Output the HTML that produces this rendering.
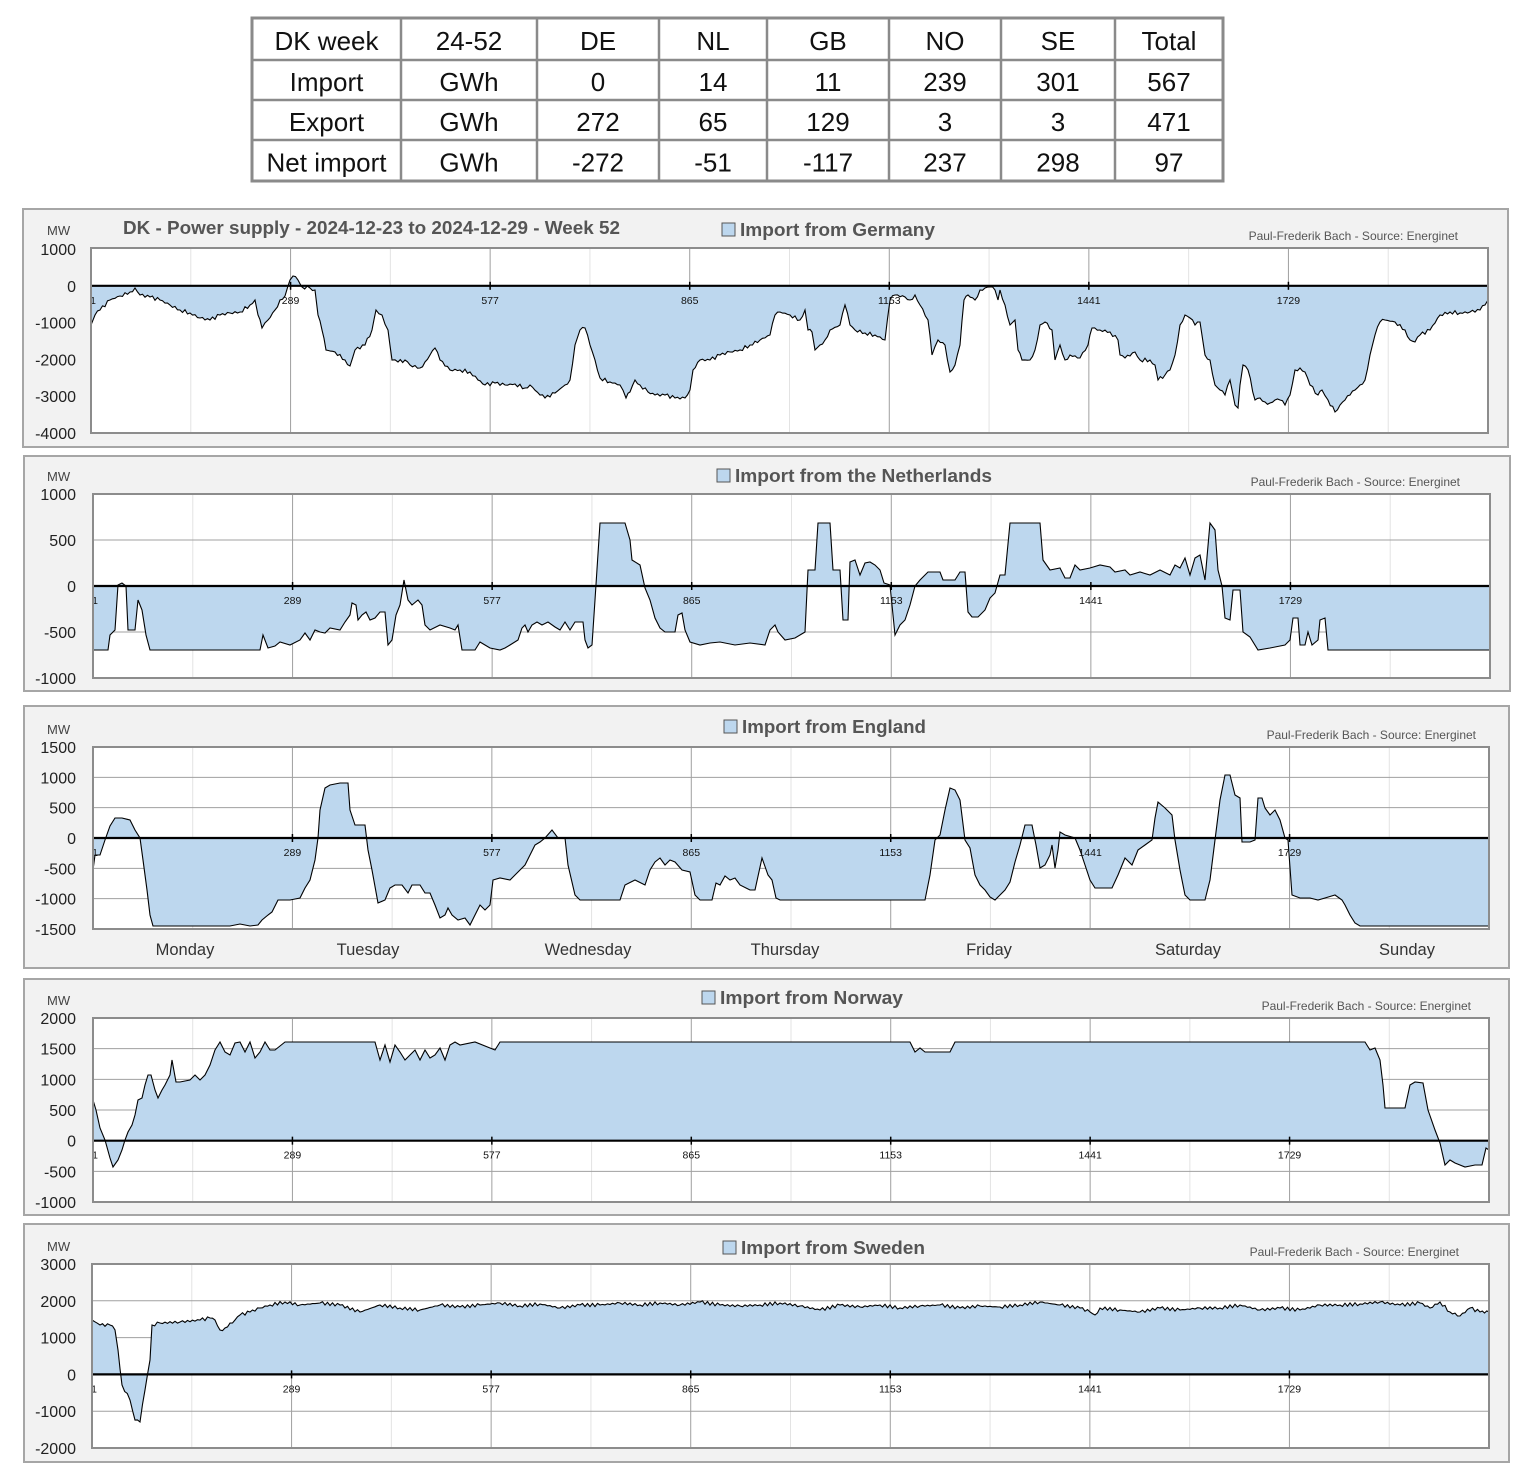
<!DOCTYPE html>
<html><head><meta charset="utf-8"><style>
body{margin:0;background:#fff;}
svg{display:block;font-family:"Liberation Sans",sans-serif;}
</style></head><body>
<svg id="s" width="1530" height="1467" viewBox="0 0 1530 1467" xmlns="http://www.w3.org/2000/svg">
<rect width="1530" height="1467" fill="#fff"/>
<g id="tbl"></g>
<g id="charts"></g>
</svg>
<script>
const NS="http://www.w3.org/2000/svg";
function el(p,t,a,txt){const e=document.createElementNS(NS,t);for(const k in a)e.setAttribute(k,a[k]);if(txt!==undefined)e.textContent=txt;p.appendChild(e);return e;}
const tbl=document.getElementById('tbl');
const cx=[252,401,537,659,767,889,1001,1115,1223], ry=[18,60,100,140,181];
const rows=[["DK week","24-52","DE","NL","GB","NO","SE","Total"],["Import","GWh","0","14","11","239","301","567"],["Export","GWh","272","65","129","3","3","471"],["Net import","GWh","-272","-51","-117","237","298","97"]];
el(tbl,'rect',{x:252,y:18,width:971,height:163,fill:'#fff',stroke:'#8a8a8a','stroke-width':3});
for(let i=1;i<8;i++)el(tbl,'line',{x1:cx[i],y1:18,x2:cx[i],y2:181,stroke:'#8a8a8a','stroke-width':2.5});
for(let j=1;j<4;j++)el(tbl,'line',{x1:252,y1:ry[j],x2:1223,y2:ry[j],stroke:'#8a8a8a','stroke-width':2.5});
rows.forEach((r,j)=>r.forEach((t,i)=>el(tbl,'text',{x:(cx[i]+cx[i+1])/2,y:(ry[j]+ry[j+1])/2+11,'text-anchor':'middle','font-size':26,fill:'#111'},t)));
const ch=document.getElementById('charts');
function panel(o){
 el(ch,'rect',{x:o.bx,y:o.by,width:o.bw,height:o.bh,fill:'#f2f2f2',stroke:'#a6a6a6','stroke-width':2});
 el(ch,'rect',{x:o.px,y:o.py,width:o.pw,height:o.ph,fill:'#fff'});
 const step=o.pw*288/2016;
 for(let k=0;k<14;k++){const x=o.px+k*step/2;el(ch,'line',{x1:x,y1:o.py,x2:x,y2:o.py+o.ph,stroke:k%2?'#e3e3e3':'#a0a0a0','stroke-width':1});}
 o.ticks.forEach(t=>{const y=o.Y(t);if(o.hgrid)el(ch,'line',{x1:o.px,y1:y,x2:o.px+o.pw,y2:y,stroke:'#a0a0a0','stroke-width':1});
   el(ch,'text',{x:76,y:y+6,'text-anchor':'end','font-size':16,fill:'#222'},String(t));});
 el(ch,'text',{x:o.mwx||47,y:o.py-13,'font-size':13,fill:'#444'},'MW');
 let pts=o.pts.slice();
 if(o.noise){const out=[];for(let i=0;i<pts.length-1;i++){const[a,b]=[pts[i],pts[i+1]];const n=Math.max(1,Math.round((b[0]-a[0])/2.5));for(let k=0;k<n;k++){const f=k/n;out.push([a[0]+(b[0]-a[0])*f,a[1]+(b[1]-a[1])*f+(k?(Math.sin(i*7.3+k*3.1)*o.noise):0)]);}}out.push(pts[pts.length-1]);pts=out;}
 const z=o.Y(0);
 const d=pts.map(p=>p[0].toFixed(1)+','+p[1].toFixed(1)).join(' ');
 el(ch,'polygon',{points:pts[0][0]+','+z+' '+d+' '+pts[pts.length-1][0]+','+z,fill:'#bdd7ee'});
 el(ch,'polyline',{points:d,fill:'none',stroke:'#000','stroke-width':1.1});
 el(ch,'line',{x1:o.px,y1:z,x2:o.px+o.pw,y2:z,stroke:'#000','stroke-width':2.2});
 ['1','289','577','865','1153','1441','1729'].forEach((l,k)=>{const x=o.px+k*step;el(ch,'line',{x1:x,y1:z-4,x2:x,y2:z+4,stroke:'#000','stroke-width':1.5});
   el(ch,'text',{x:k?x:x+2,y:z+18,'text-anchor':'middle','font-size':10.5,fill:'#111'},l);});
 el(ch,'rect',{x:o.px,y:o.py,width:o.pw,height:o.ph,fill:'none',stroke:'#8c8c8c','stroke-width':2});
 el(ch,'rect',{x:o.lx,y:o.ly-13,width:13,height:13,fill:'#bdd7ee',stroke:'#555','stroke-width':1});
 el(ch,'text',{x:o.lx+18,y:o.ly,'font-size':18.5,'font-weight':'bold',fill:'#555','textLength':o.tl,'lengthAdjust':'spacingAndGlyphs'},o.title);
 el(ch,'text',{x:o.sx,y:o.py-8,'text-anchor':'end','font-size':12,fill:'#555'},'Paul-Frederik Bach - Source: Energinet');
}
function Yf(top,bot,vmax,vmin){return v=>top+(vmax-v)/(vmax-vmin)*(bot-top);}
panel({bx:23,by:209,bw:1485,bh:238,px:91,py:248,pw:1397,ph:185,Y:Yf(249,433,1000,-4000),ticks:[1000,0,-1000,-2000,-3000,-4000],hgrid:false,
 lx:722,ly:236,title:'Import from Germany',tl:195,sx:1458,noise:1.8,
 pts:[[91,325],[95,315],[100,310],[110,300],[120,296],[130,292],[135,288],[140,295],[150,297],[160,300],[170,305],[180,310],[190,313],[200,318],[210,320],[220,315],[230,313],[240,312],[250,305],[255,300],[258,315],[262,328],[268,320],[275,310],[280,300],[285,296],[290,280],[293,276],[298,280],[302,287],[310,288],[315,290],[318,315],[322,330],[326,350],[335,352],[345,360],[350,366],[355,350],[365,345],[372,330],[376,310],[382,315],[388,330],[392,360],[398,362],[405,360],[410,365],[420,368],[425,362],[430,355],[435,348],[440,360],[450,370],[460,370],[470,372],[478,380],[485,385],[495,383],[505,385],[515,384],[525,388],[530,385],[540,395],[545,398],[555,393],[565,385],[570,380],[575,345],[580,330],[585,328],[590,345],[595,360],[600,378],[610,382],[620,385],[626,398],[630,392],[635,380],[640,385],[648,392],[655,395],[665,395],[675,398],[685,398],[690,390],[693,370],[700,360],[710,360],[720,355],[730,352],[740,350],[750,345],[760,340],[770,335],[775,315],[780,312],[790,315],[800,320],[805,310],[808,330],[812,332],[815,350],[820,345],[825,340],[830,330],[840,325],[845,305],[850,325],[855,330],[865,333],[875,335],[885,340],[890,300],[895,295],[905,297],[910,300],[915,295],[920,305],[928,320],[932,355],[938,340],[945,345],[950,372],[955,365],[960,345],[964,300],[968,295],[975,300],[980,290],[985,288],[990,287],[995,290],[998,300],[1000,290],[1005,305],[1010,325],[1015,320],[1018,350],[1022,360],[1030,360],[1035,350],[1040,325],[1045,322],[1052,330],[1055,360],[1060,345],[1065,360],[1070,355],[1080,358],[1088,345],[1092,328],[1100,330],[1110,332],[1118,340],[1120,355],[1125,358],[1130,356],[1135,352],[1140,360],[1150,360],[1155,365],[1158,380],[1165,375],[1170,370],[1175,355],[1180,325],[1185,315],[1190,318],[1195,325],[1200,322],[1205,355],[1210,360],[1215,385],[1220,390],[1225,395],[1230,380],[1235,405],[1238,408],[1240,385],[1243,365],[1248,370],[1255,400],[1260,398],[1265,402],[1270,403],[1275,400],[1280,400],[1285,405],[1290,395],[1295,370],[1300,368],[1305,372],[1310,385],[1318,395],[1322,390],[1328,400],[1335,412],[1340,405],[1345,400],[1350,395],[1355,390],[1360,385],[1365,380],[1370,355],[1375,335],[1380,322],[1385,320],[1395,322],[1405,330],[1410,340],[1415,342],[1420,335],[1430,330],[1440,315],[1450,312],[1460,313],[1470,312],[1480,310],[1485,305],[1488,300]]});
el(ch,'text',{x:123,y:234,'font-size':18.5,'font-weight':'bold',fill:'#555','textLength':497,'lengthAdjust':'spacingAndGlyphs'},'DK - Power supply - 2024-12-23 to 2024-12-29 - Week 52');
panel({bx:24,by:456,bw:1486,bh:235,px:93,py:494,pw:1397,ph:184,Y:Yf(494,678,1000,-1000),ticks:[1000,500,0,-500,-1000],hgrid:true,
 lx:717,ly:482,title:'Import from the Netherlands',tl:257,sx:1460,
 pts:[[93,650],[108,650],[110,635],[115,630],[118,585],[122,583],[126,586],[128,630],[135,630],[138,600],[142,610],[146,635],[150,650],[260,650],[263,635],[268,648],[275,646],[280,642],[290,645],[300,640],[305,633],[310,640],[315,630],[320,632],[325,633],[330,628],[340,630],[345,622],[350,615],[352,603],[356,605],[358,620],[362,615],[366,612],[370,620],[375,618],[380,612],[385,612],[388,645],[392,640],[396,615],[400,605],[404,580],[408,600],[412,605],[418,600],[422,605],[425,625],[430,630],[440,625],[450,628],[455,630],[458,625],[462,650],[475,650],[480,642],[485,645],[490,648],[500,650],[505,648],[510,645],[518,640],[522,628],[525,625],[528,632],[532,625],[537,622],[542,625],[548,622],[555,627],[560,630],[565,622],[570,630],[575,622],[583,622],[585,640],[588,648],[592,645],[595,600],[600,523],[625,523],[630,540],[632,560],[640,565],[645,588],[650,600],[655,618],[660,628],[665,632],[675,632],[678,615],[682,613],[685,630],[690,642],[700,645],[710,643],[720,642],[735,645],[750,643],[765,645],[770,630],[775,625],[778,632],[785,640],[795,638],[805,632],[808,570],[815,570],[818,523],[830,523],[833,570],[840,570],[843,620],[848,620],[850,562],[855,560],[860,575],[865,563],[870,562],[875,565],[880,570],[884,583],[890,585],[895,635],[900,625],[905,620],[910,605],[915,586],[920,580],[928,572],[940,572],[943,580],[955,580],[960,572],[965,572],[968,612],[972,617],[978,617],[985,610],[990,598],[995,593],[1000,575],[1005,575],[1010,523],[1040,523],[1043,560],[1050,570],[1060,568],[1065,578],[1070,578],[1075,565],[1080,570],[1090,568],[1100,565],[1110,567],[1115,572],[1125,570],[1130,575],[1140,572],[1150,575],[1160,570],[1170,575],[1175,565],[1180,568],[1185,558],[1190,575],[1195,558],[1200,555],[1205,580],[1210,523],[1215,530],[1218,570],[1222,586],[1225,618],[1230,620],[1233,590],[1240,590],[1243,632],[1250,637],[1258,650],[1270,648],[1285,645],[1290,640],[1293,618],[1298,618],[1300,645],[1305,645],[1308,632],[1312,645],[1318,640],[1320,620],[1325,618],[1328,650],[1490,650]]});
panel({bx:24,by:706,bw:1485,bh:262,px:93,py:747,pw:1396,ph:182,Y:Yf(747,929,1500,-1500),ticks:[1500,1000,500,0,-500,-1000,-1500],hgrid:true,
 lx:724,ly:733,title:'Import from England',tl:184,sx:1476,
 pts:[[93,870],[95,855],[100,855],[105,840],[110,826],[115,818],[122,818],[130,820],[135,830],[140,838],[143,860],[147,890],[150,915],[153,926],[230,926],[240,924],[250,926],[258,925],[262,920],[268,915],[272,912],[278,900],[290,900],[300,898],[305,888],[310,880],[315,860],[318,838],[320,810],[325,788],[330,785],[340,783],[348,783],[350,810],[355,825],[365,825],[368,850],[372,870],[378,903],[385,900],[390,888],[395,885],[402,885],[408,893],[412,885],[420,885],[425,893],[430,893],[435,905],[440,918],[445,915],[448,908],[452,915],[458,920],[465,918],[470,925],[475,915],[480,905],[485,910],[490,905],[493,880],[500,878],[510,880],[515,875],[520,870],[525,865],[530,855],[535,845],[540,842],[545,838],[552,830],[558,838],[565,838],[568,865],[575,895],[580,900],[620,900],[625,885],[635,880],[645,885],[650,870],[655,862],[660,858],[665,865],[670,860],[675,862],[682,870],[690,872],[695,895],[700,900],[712,900],[716,883],[720,885],[725,876],[730,880],[735,878],[740,885],[750,890],[755,890],[762,858],[768,875],[772,880],[776,898],[780,900],[925,900],[930,875],[935,840],[940,835],[945,810],[950,788],[955,790],[960,800],[965,840],[970,848],[975,875],[980,885],[985,890],[990,897],[995,900],[1000,895],[1005,890],[1010,882],[1015,862],[1020,845],[1025,825],[1032,825],[1036,845],[1040,868],[1045,865],[1050,855],[1052,845],[1055,868],[1058,850],[1060,832],[1065,835],[1075,838],[1080,850],[1085,865],[1090,880],[1095,888],[1112,888],[1118,875],[1125,858],[1132,865],[1138,850],[1145,845],[1152,840],[1155,818],[1158,802],[1165,808],[1172,815],[1175,840],[1180,870],[1185,895],[1190,900],[1205,900],[1210,880],[1215,840],[1220,800],[1225,775],[1230,775],[1235,795],[1240,798],[1242,842],[1250,842],[1255,840],[1258,798],[1262,798],[1265,808],[1270,815],[1275,810],[1280,820],[1285,838],[1288,840],[1292,895],[1300,898],[1310,898],[1318,900],[1325,898],[1335,895],[1342,900],[1345,905],[1350,915],[1355,923],[1360,926],[1489,926]]});
[['Monday',185],['Tuesday',368],['Wednesday',588],['Thursday',785],['Friday',989],['Saturday',1188],['Sunday',1407]].forEach(d=>el(ch,'text',{x:d[1],y:955,'text-anchor':'middle','font-size':16.5,fill:'#333'},d[0]));
panel({bx:24,by:979,bw:1485,bh:236,px:93,py:1018,pw:1396,ph:184,Y:Yf(1018,1202,2000,-1000),ticks:[2000,1500,1000,500,0,-500,-1000],hgrid:true,
 lx:702,ly:1004,title:'Import from Norway',tl:183,sx:1471,
 pts:[[93,1100],[96,1110],[100,1128],[105,1140],[110,1158],[113,1167],[118,1160],[122,1150],[125,1140],[128,1132],[132,1125],[135,1115],[138,1100],[142,1098],[145,1085],[148,1075],[151,1075],[155,1090],[158,1098],[162,1090],[165,1085],[170,1075],[172,1060],[176,1082],[180,1082],[190,1080],[195,1075],[200,1080],[205,1075],[210,1065],[215,1050],[220,1042],[225,1052],[230,1055],[235,1043],[240,1042],[245,1052],[250,1042],[255,1058],[260,1052],[265,1042],[270,1050],[275,1050],[285,1042],[375,1042],[380,1060],[385,1045],[390,1062],[395,1045],[400,1052],[405,1060],[410,1055],[415,1050],[420,1060],[425,1050],[430,1058],[435,1055],[440,1048],[445,1060],[450,1045],[455,1042],[460,1045],[475,1042],[490,1048],[495,1050],[500,1042],[910,1042],[915,1052],[920,1048],[925,1052],[950,1052],[955,1042],[1365,1042],[1370,1050],[1375,1048],[1380,1060],[1383,1085],[1385,1108],[1405,1108],[1410,1085],[1415,1082],[1423,1083],[1428,1110],[1435,1130],[1440,1143],[1445,1165],[1450,1160],[1455,1163],[1465,1167],[1475,1165],[1482,1165],[1486,1148],[1489,1150]]});
panel({bx:24,by:1224,bw:1485,bh:238,px:92,py:1264,pw:1397,ph:184,Y:Yf(1264,1448,3000,-2000),ticks:[3000,2000,1000,0,-1000,-2000],hgrid:true,
 lx:723,ly:1254,title:'Import from Sweden',tl:184,sx:1459,noise:1.6,
 pts:[[92,1320],[100,1325],[110,1325],[115,1330],[118,1350],[122,1385],[130,1400],[135,1420],[140,1422],[145,1390],[150,1360],[152,1325],[160,1323],[180,1322],[200,1320],[210,1318],[215,1320],[220,1330],[225,1328],[235,1320],[240,1315],[250,1312],[260,1308],[270,1305],[285,1302],[300,1305],[320,1303],[340,1305],[360,1312],[380,1305],[400,1308],[420,1310],[440,1305],[460,1307],[480,1305],[500,1303],[520,1306],[540,1304],[560,1308],[580,1305],[600,1305],[620,1303],[640,1305],[660,1303],[680,1305],[700,1302],[720,1305],[740,1306],[760,1305],[780,1303],[800,1306],[820,1310],[840,1305],[860,1307],[880,1305],[900,1308],[920,1306],[940,1305],[960,1308],[980,1306],[1000,1307],[1020,1305],[1040,1302],[1060,1305],[1080,1308],[1090,1312],[1095,1315],[1100,1308],[1120,1310],[1140,1312],[1160,1308],[1180,1310],[1200,1308],[1220,1308],[1240,1305],[1260,1310],[1280,1308],[1300,1310],[1320,1305],[1340,1305],[1360,1304],[1380,1302],[1400,1305],[1420,1303],[1430,1308],[1440,1302],[1450,1312],[1460,1316],[1470,1308],[1480,1312],[1489,1312]]});
</script>
</body></html>
